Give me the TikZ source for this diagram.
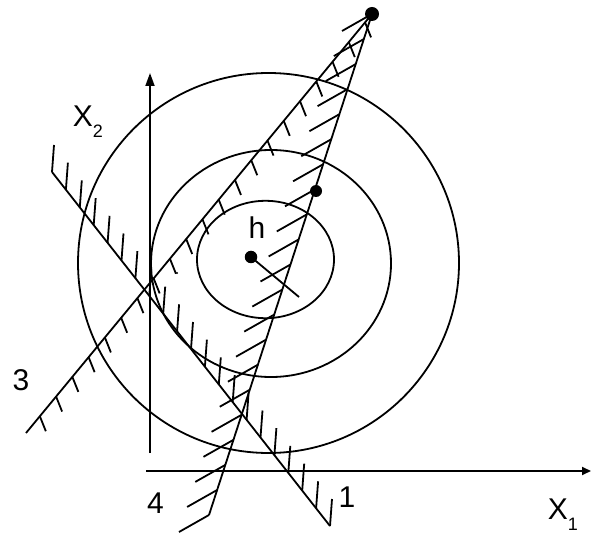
\documentclass[tikz,border=0pt]{standalone}
\usepackage{fontspec}
\setmainfont{Liberation Sans}
\usetikzlibrary{arrows.meta,calc}
\tikzset{
  every picture/.style={line join=round, line width=1.8pt},
  lbl/.style={font=\fontsize{30}{36}\selectfont, inner sep=0pt},
  dot/.style={circle, fill, inner sep=0pt},
}
\newcommand{\subidx}[1]{\raisebox{-11pt}{\fontsize{18}{18}\selectfont #1}}

\begin{document}
\begin{tikzpicture}[x=1pt,y=-1pt]
\useasboundingbox(0,0)rectangle(591,534);
\coordinate(o1)at(146,471);\coordinate(e1)at(591,471);
\coordinate(o2)at(150,453);\coordinate(e2)at(150,73);
\draw[-{Triangle[length=9pt,width=8pt]}](o1)--(e1);
\draw[-{Triangle[length=13pt,width=9pt]}](o2)--(e2);
\draw(268.5,263)ellipse[x radius=190.5,y radius=190];
\draw(271,263.5)ellipse[x radius=120,y radius=113.5];
\draw(265.5,259.5)ellipse[x radius=68.5,y radius=58.7];
\coordinate(top)at(372,14);
\coordinate(a1)at(52,172);\coordinate(b1)at(330,526);
\coordinate(a3)at(26,433);
\coordinate(a4)at(209,515);
\draw(a1)--(b1);
\draw(a3)--(top);
\draw(a4)--(top);
\foreach \k in {0,...,20}
  \draw($(a1)!\k/20!(b1)$)--++(2,-27);
\foreach \k [evaluate=\k as \s using 0.04+0.047*\k] in {0,...,20}
  \draw($(a3)!\s!(top)$)--++(6,15);
\foreach \k in {0,...,20}
  \draw($(a4)!\k/20!(top)$)--++(-30,17);
\node[dot,minimum size=14pt](opt)at(top){};
\node[dot,minimum size=12pt](mid)at(316,191){};
\node[dot,minimum size=12.5pt](h)at(251,257){};
\coordinate(hend)at(299,297);
\draw(h.center)--(hend);
\fill(177,273)circle(1.1);
\node[lbl,anchor=base](hlbl)at(257,239){h};
\node[lbl,anchor=base west](x2lbl)at(72,127){X\subidx{2}};
\node[lbl,anchor=base west](x1lbl)at(547,519){X\subidx{1}};
\node[lbl,anchor=base](l3)at(21,390){3};
\node[lbl,anchor=base](l4)at(155.5,513){4};
\node[lbl,anchor=base](l1)at(347,507){1};
\end{tikzpicture}
\end{document}
